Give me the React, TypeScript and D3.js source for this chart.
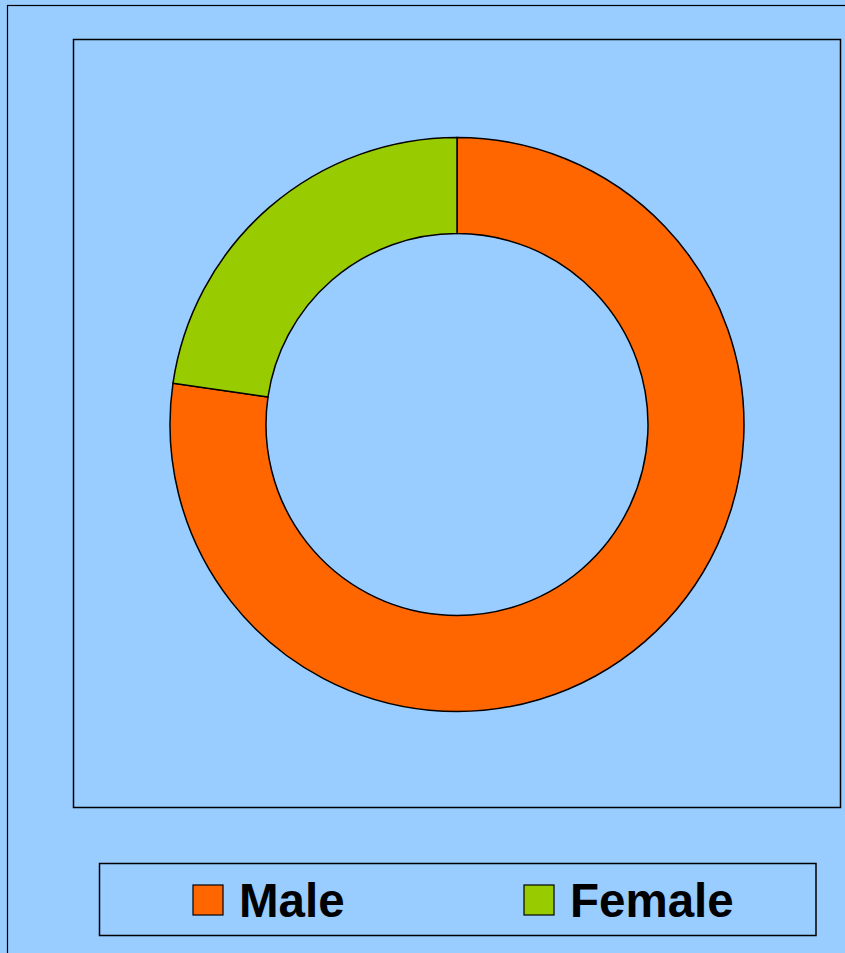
import React from "react";
import * as d3 from "d3";

const categories = ["Male", "Female"];
const values = [77.3, 22.7];
const colors = ["#FF6600", "#99CC00"];

export default function App() {
  const W = 845;
  const H = 953;
  const cx = 457;
  const cy = 424.5;
  const outerR = 287;
  const innerR = 191;

  const pie = d3
    .pie<number>()
    .sort(null)
    .value((d) => d)
    .startAngle(0)
    .endAngle(2 * Math.PI);
  const arcs = pie(values);
  const arc = d3.arc<d3.PieArcDatum<number>>().innerRadius(innerR).outerRadius(outerR);

  const legendX = [193, 524];

  return (
    <svg
      width={W}
      height={H}
      style={{ position: "absolute", left: 0, top: 0, display: "block" }}
      fontFamily="'Liberation Sans', Arial, sans-serif"
    >
      <rect x={0} y={0} width={W} height={H} fill="#99CCFF" />
      <rect x={7.5} y={5.5} width={W + 10} height={H + 10} fill="#99CCFF" stroke="#000" strokeWidth={1.2} />
      <rect x={73.5} y={39.5} width={767} height={768} fill="#99CCFF" stroke="#000" strokeWidth={1.5} />
      <g transform={`translate(${cx},${cy})`}>
        {arcs.map((a, i) => (
          <path key={categories[i]} d={arc(a) || ""} fill={colors[i]} stroke="#000" strokeWidth={1.5} />
        ))}
      </g>
      <rect x={99.5} y={863.5} width={716.5} height={72} fill="#99CCFF" stroke="#000" strokeWidth={1.5} />
      {categories.map((c, i) => (
        <g key={c}>
          <rect x={legendX[i]} y={885} width={30} height={30} fill={colors[i]} stroke="#000" strokeWidth={1.2} />
          <text x={legendX[i] + 46} y={916.5} fontSize={47.5} fontWeight="bold" fill="#000">
            {c}
          </text>
        </g>
      ))}
    </svg>
  );
}
